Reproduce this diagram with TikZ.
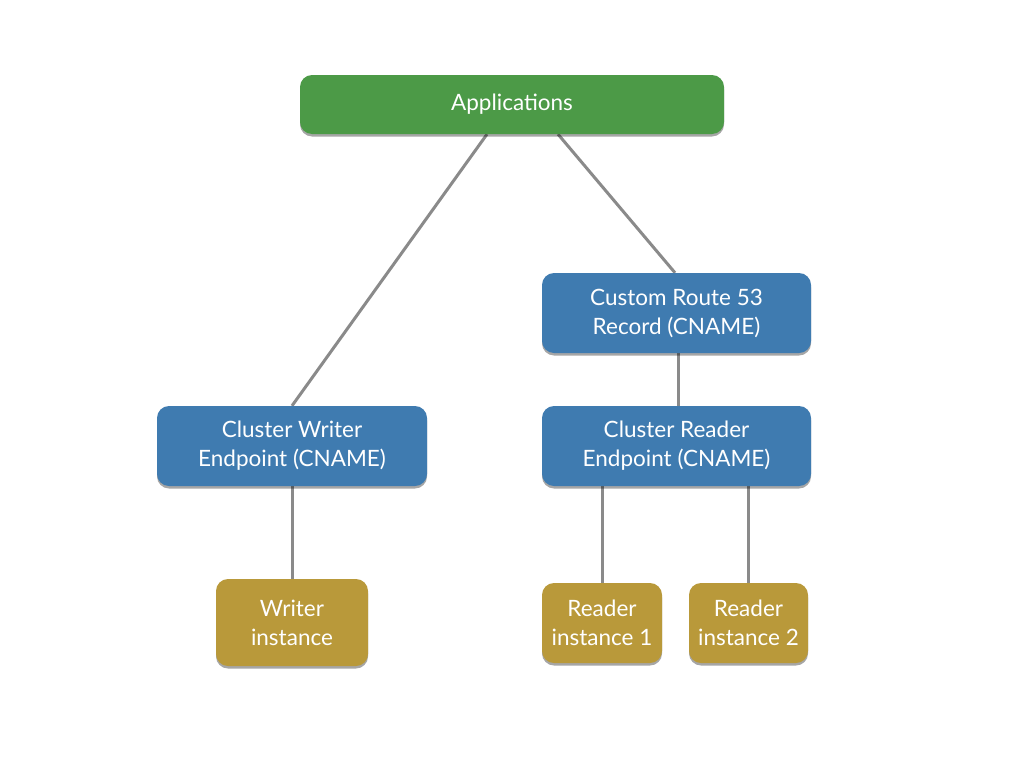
\documentclass[tikz,border=0pt]{standalone}
\usepackage{fontspec}
\setmainfont{Lato}
\usetikzlibrary{shadows,backgrounds}
\definecolor{appgreen}{HTML}{4C9A47}
\definecolor{epblue}{HTML}{3F7BB0}
\definecolor{instgold}{HTML}{B9993A}
\definecolor{linegray}{HTML}{8A8A8A}
\tikzset{
  box/.style={rounded corners=12pt, text=white, align=center,
    font=\fontsize{22.5}{29}\selectfont, inner sep=0pt,
    drop shadow={shadow xshift=0pt, shadow yshift=-2.5pt, opacity=0.35, fill=black}},
  app/.style={box, fill=appgreen},
  ep/.style={box, fill=epblue},
  inst/.style={box, fill=instgold},
  link/.style={draw=linegray, line width=3pt}
}
\begin{document}
\begin{tikzpicture}[x=1pt,y=-1pt]
\useasboundingbox (0,0) rectangle (1024,768);
\node[app, minimum width=424pt, minimum height=59pt] (apps) at (512,104.5) {Applications};
\node[ep, minimum width=269pt, minimum height=80pt] (r53) at (676.5,313) {Custom Route 53\\Record (CNAME)};
\node[ep, minimum width=270pt, minimum height=80pt] (wep) at (292,446) {Cluster Writer\\Endpoint (CNAME)};
\node[ep, minimum width=269pt, minimum height=80pt] (rep) at (676.5,446) {Cluster Reader\\Endpoint (CNAME)};
\node[inst, minimum width=152pt, minimum height=87pt] (wi) at (292,622.5) {Writer\\instance};
\node[inst, minimum width=120pt, minimum height=80pt] (ri1) at (602,623) {Reader\\instance 1};
\node[inst, minimum width=119pt, minimum height=80pt] (ri2) at (748.5,623) {Reader\\instance 2};
\begin{pgfonlayer}{background}
\fill[white] (0,0) rectangle (1024,768);
\draw[link] ([xshift=-25pt]apps.south) -- (wep.north);
\draw[link] ([xshift=46pt]apps.south) -- ([xshift=-1.5pt]r53.north);
\draw[link] ([xshift=1.5pt]r53.south) -- ([xshift=1.5pt]rep.north);
\draw[link] (wep.south) -- (wi.north);
\draw[link] (rep.south -| ri1.north) -- (ri1.north);
\draw[link] (rep.south -| ri2.north) -- (ri2.north);
\end{pgfonlayer}
\end{tikzpicture}
\end{document}
